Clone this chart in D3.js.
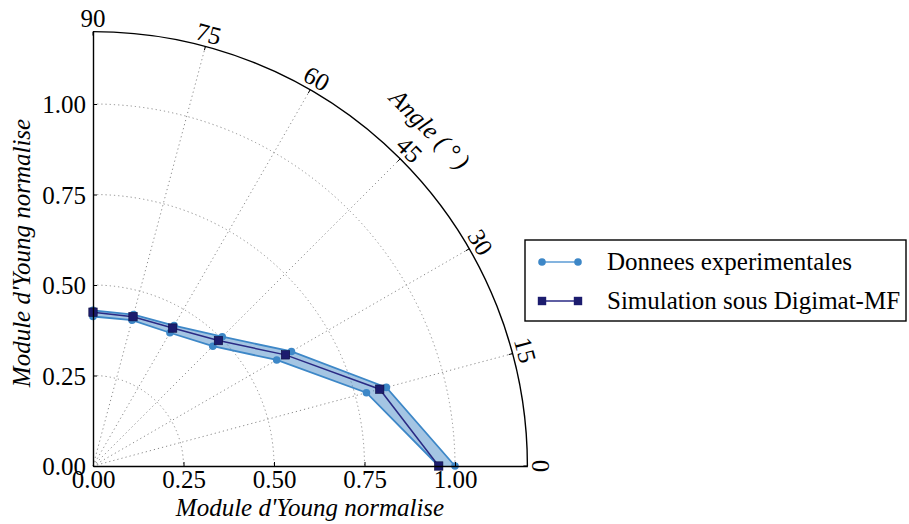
<!DOCTYPE html>
<html>
<head>
<meta charset="utf-8">
<script src="https://cdn.jsdelivr.net/npm/d3@7"></script>
<style>
  html, body { margin: 0; padding: 0; background: #fff; }
  svg { display: block; }
  text { font-family: "Liberation Serif", "Times New Roman", serif; fill: #000; }
</style>
</head>
<body>
<svg id="chart" width="909" height="524"></svg>
<script>
// ---- data ----
const angles = [0, 15, 30, 45, 60, 75, 90];                 // degrees
const simulation = [0.955, 0.82, 0.614, 0.49, 0.44, 0.427, 0.425];
const expLow = [0.955, 0.782, 0.586, 0.468, 0.425, 0.417, 0.413];
const expHigh = [1.0, 0.839, 0.633, 0.505, 0.448, 0.433, 0.43];
const radialTicks = [0, 0.25, 0.5, 0.75, 1.0];
const gridRadii = [0.25, 0.5, 0.75, 1.0];
const angleTicks = [0, 15, 30, 45, 60, 75, 90];
const seriesNames = ["Donnees experimentales", "Simulation sous Digimat-MF"];
const axisTitle = "Module d'Young normalise";
const angleTitle = "Angle (\u2009\u00b0\u2009)";

// ---- layout ----
const ox = 93, oy = 466;
const rMax = 1.2;
const R = 434.4;
const svg = d3.select("#chart");

const r = d3.scaleLinear().domain([0, rMax]).range([0, R]);
const xScale = d3.scaleLinear().domain([0, rMax]).range([ox, ox + R]);
const yScale = d3.scaleLinear().domain([0, rMax]).range([oy, oy - R]);
const rad = d => d * Math.PI / 180;

const g = svg.append("g").attr("transform", `translate(${ox},${oy})`);

// grid: radius arcs
gridRadii.forEach(v => {
  const p = d3.path();
  p.arc(0, 0, r(v), -Math.PI / 2, 0);
  g.append("path").attr("d", p.toString())
    .attr("fill", "none").attr("stroke", "#8a8a8a")
    .attr("stroke-width", 1).attr("stroke-dasharray", "1.2,3");
});
// grid: angle lines
angleTicks.filter(a => a > 0 && a < 90).forEach(a => {
  g.append("line")
    .attr("x1", 0).attr("y1", 0)
    .attr("x2", r(rMax) * Math.cos(rad(a)))
    .attr("y2", -r(rMax) * Math.sin(rad(a)))
    .attr("stroke", "#8a8a8a").attr("stroke-width", 1)
    .attr("stroke-dasharray", "1.2,3");
});

// outer arc
{
  const p = d3.path();
  p.arc(0, 0, r(rMax), -Math.PI / 2, 0);
  g.append("path").attr("d", p.toString())
    .attr("fill", "none").attr("stroke", "#000").attr("stroke-width", 1.4);
}
// arc ticks + labels
angleTicks.forEach(a => {
  const c = Math.cos(rad(a)), s = Math.sin(rad(a));
  g.append("line")
    .attr("x1", r(rMax) * c).attr("y1", -r(rMax) * s)
    .attr("x2", (r(rMax) - 4) * c).attr("y2", -(r(rMax) - 4) * s)
    .attr("stroke", "#000").attr("stroke-width", 1);
  const lr = r(rMax) + 13;
  g.append("text")
    .attr("transform", `translate(${lr * c},${-lr * s}) rotate(${90 - a})`)
    .attr("text-anchor", "middle").attr("dominant-baseline", "central")
    .attr("font-size", 25).text(a);
});
// angle title
{
  const a = 45, lr = r(rMax) + 42;
  g.append("text")
    .attr("transform", `translate(${lr * Math.cos(rad(a))},${-lr * Math.sin(rad(a))}) rotate(${90 - a})`)
    .attr("text-anchor", "middle").attr("dominant-baseline", "central")
    .attr("font-size", 25).attr("font-style", "italic").text(angleTitle);
}

// axes
const fmt = d3.format(".2f");
const leftAxis = d3.axisLeft(yScale).tickValues(radialTicks).tickFormat(fmt)
  .tickSizeInner(-4).tickSizeOuter(0).tickPadding(7);
const bottomAxis = d3.axisBottom(xScale).tickValues(radialTicks).tickFormat(fmt)
  .tickSizeInner(-4).tickSizeOuter(0).tickPadding(5);

const gl = svg.append("g").attr("transform", `translate(${ox},0)`).call(leftAxis);
const gb = svg.append("g").attr("transform", `translate(0,${oy})`).call(bottomAxis);
[gl, gb].forEach(ax => {
  ax.select(".domain").attr("stroke", "#000").attr("stroke-width", 1.4);
  ax.selectAll(".tick line").attr("stroke", "#000").attr("stroke-width", 1);
  ax.selectAll(".tick text").attr("font-size", 25)
    .attr("font-family", "'Liberation Serif', serif").attr("fill", "#000");
});
gl.selectAll(".tick text").attr("dy", "0.35em");
gb.selectAll(".tick text").attr("dy", "0.68em");

// axis titles
svg.append("text").attr("x", 310).attr("y", 516).attr("text-anchor", "middle")
  .attr("font-size", 25).attr("font-style", "italic").text(axisTitle);
svg.append("text").attr("transform", "translate(30,253) rotate(-90)")
  .attr("text-anchor", "middle").attr("font-size", 25).attr("font-style", "italic").text(axisTitle);

// data
const pts = (vals) => angles.map((a, i) => ({ a, v: vals[i] }));
const lineR = d3.lineRadial().angle(d => Math.PI / 2 - rad(d.a)).radius(d => r(d.v));
const areaR = d3.areaRadial()
  .angle(d => Math.PI / 2 - rad(d.a))
  .innerRadius(d => r(d.lo)).outerRadius(d => r(d.hi));

const band = angles.map((a, i) => ({ a, lo: expLow[i], hi: expHigh[i] }));
const expColor = "#3d87c7";
const simColor = "#1c1c6e";

g.append("path").attr("d", areaR(band))
  .attr("fill", "#4a8cc8").attr("fill-opacity", 0.5).attr("stroke", "none");
[expLow, expHigh].forEach(vals => {
  g.append("path").attr("d", lineR(pts(vals)))
    .attr("fill", "none").attr("stroke", expColor).attr("stroke-width", 1.8);
});
[expLow, expHigh].forEach(vals => {
  g.selectAll(null).data(pts(vals)).enter().append("circle")
    .attr("cx", d => r(d.v) * Math.cos(rad(d.a)))
    .attr("cy", d => -r(d.v) * Math.sin(rad(d.a)))
    .attr("r", 3.8).attr("fill", expColor);
});
g.append("path").attr("d", lineR(pts(simulation)))
  .attr("fill", "none").attr("stroke", "#2a2a84").attr("stroke-width", 1.5);
g.selectAll(null).data(pts(simulation)).enter().append("rect")
  .attr("x", d => r(d.v) * Math.cos(rad(d.a)) - 4.2)
  .attr("y", d => -r(d.v) * Math.sin(rad(d.a)) - 4.2)
  .attr("width", 8.4).attr("height", 8.4)
  .attr("fill", simColor).attr("stroke", "#0d0d40").attr("stroke-width", 0.6);

// legend
const lg = svg.append("g");
lg.append("rect").attr("x", 525).attr("y", 240).attr("width", 381).attr("height", 81)
  .attr("fill", "#fff").attr("stroke", "#000").attr("stroke-width", 1.4);
const rows = [262, 301];
// experimental
lg.append("line").attr("x1", 542).attr("x2", 578).attr("y1", rows[0]).attr("y2", rows[0])
  .attr("stroke", "#5b9bd5").attr("stroke-width", 1.5);
[542, 578].forEach(x => lg.append("circle").attr("cx", x).attr("cy", rows[0]).attr("r", 3.8).attr("fill", expColor));
// simulation
lg.append("line").attr("x1", 542).attr("x2", 578).attr("y1", rows[1]).attr("y2", rows[1])
  .attr("stroke", "#2a2a84").attr("stroke-width", 1.5);
[542, 578].forEach(x => lg.append("rect").attr("x", x - 4.2).attr("y", rows[1] - 4.2)
  .attr("width", 8.4).attr("height", 8.4).attr("fill", simColor));
seriesNames.forEach((n, i) => {
  lg.append("text").attr("x", 607).attr("y", rows[i]).attr("dy", "0.33em")
    .attr("font-size", 25).text(n);
});
</script>
</body>
</html>
